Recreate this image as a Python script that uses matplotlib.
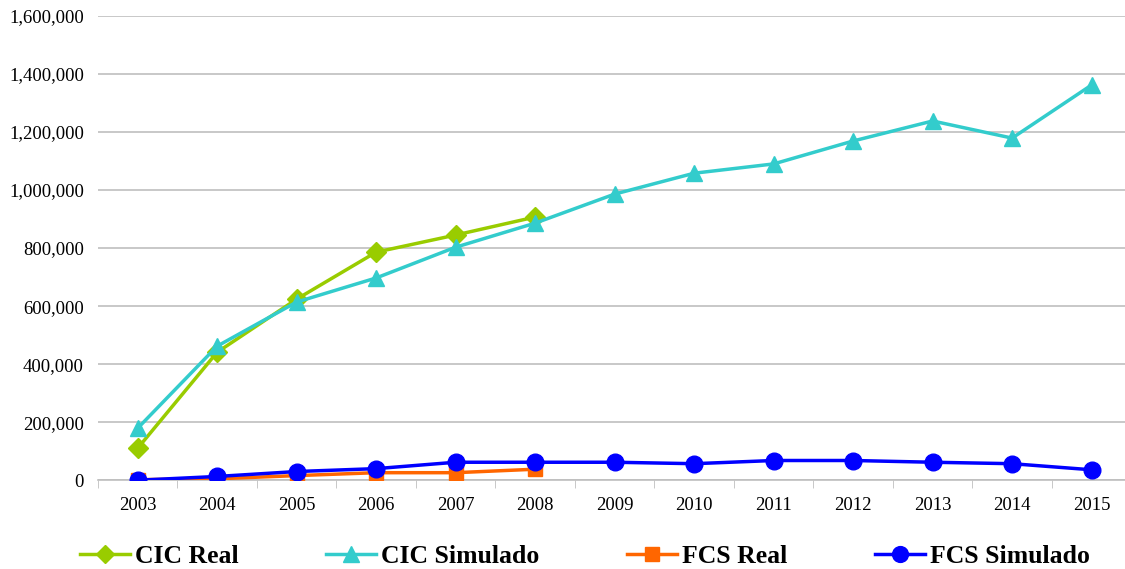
import matplotlib
matplotlib.use("Agg")
import matplotlib.pyplot as plt
from matplotlib.ticker import FuncFormatter, FixedLocator
import numpy as np

plt.rcParams['font.family'] = ['Liberation Serif', 'DejaVu Serif']

# data
years = ['2003', '2004', '2005', '2006', '2007', '2008', '2009',
         '2010', '2011', '2012', '2013', '2014', '2015']
cic_real = [110000, 441000, 624000, 786000, 845000, 907000]
cic_sim = [179000, 462000, 614000, 697000, 803000, 886000, 986000,
           1058000, 1090000, 1169000, 1238000, 1179000, 1362000]
fcs_real = [2000, 5000, 16000, 26000, 26000, 38000]
fcs_sim = [0, 13000, 30000, 40000, 62000, 62000, 62000,
           57000, 68000, 68000, 62000, 57000, 36000]

fig = plt.figure(figsize=(11.25, 5.69), dpi=100)
ax = fig.add_axes([0.087, 0.156, 0.913, 0.816])

x = np.arange(len(years))
ax.plot(x[:len(cic_real)], cic_real, color='#99cc00', lw=2.5, marker='D', ms=10,
        label='CIC Real', zorder=3)
ax.plot(x, cic_sim, color='#33cccc', lw=2.5, marker='^', ms=12,
        label='CIC Simulado', zorder=3)
ax.plot(x[:len(fcs_real)], fcs_real, color='#ff6600', lw=2.5, marker='s', ms=10,
        label='FCS Real', zorder=4)
ax.plot(x, fcs_sim, color='#0000ff', lw=2.5, marker='o', ms=12,
        label='FCS Simulado', zorder=5)

ax.set_xlim(-0.5, 12.42)
ax.set_ylim(0, 1600000)
ax.set_yticks(np.arange(0, 1600001, 200000))
ax.yaxis.set_major_formatter(FuncFormatter(lambda v, p: f'{int(v):,}'))
ax.set_xticks(x)
ax.set_xticklabels(years)
ax.xaxis.set_minor_locator(FixedLocator(np.arange(-0.5, 13, 1)))
ax.tick_params(axis='x', which='major', length=0, pad=12, labelsize=13.5)
ax.tick_params(axis='x', which='minor', length=6, color='#bfbfbf', direction='out')
ax.tick_params(axis='y', length=0, pad=10, labelsize=13.5)
ax.grid(axis='y', color='#bfbfbf', lw=1.2)
ax.set_axisbelow(True)
for s in ['top', 'right', 'left']:
    ax.spines[s].set_visible(False)
ax.spines['bottom'].set_color('#bfbfbf')
ax.spines['bottom'].set_linewidth(1.2)

fig.legend(loc='center left', bbox_to_anchor=(0.071, 0.022), ncol=4, frameon=False,
           prop={'weight': 'bold', 'size': 18.5}, columnspacing=3.4,
           handlelength=1.95, handletextpad=0.2, markerscale=0.95,
           borderaxespad=0, borderpad=0)

fig.savefig('out.png', dpi=100)
